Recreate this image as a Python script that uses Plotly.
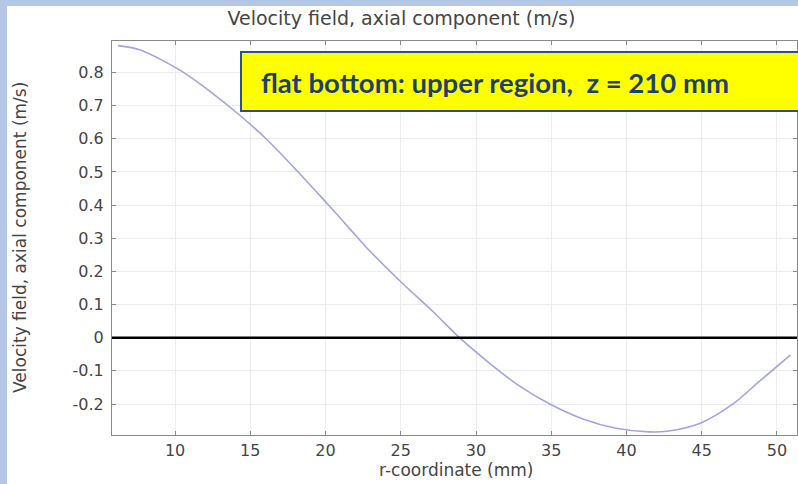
import plotly.graph_objects as go

r_mm = [6.2, 7.7, 10.4, 12.3, 14.3, 16.1, 18.3, 19.6, 20.5, 21.6, 22.7, 24.95, 27.2, 28.9,
        30.5, 32.7, 34.9, 37.1, 39.3, 41.5, 42.7, 44.9, 47.1, 48.9, 50.9]
w_axial = [0.881, 0.868, 0.805, 0.744, 0.671, 0.598, 0.494, 0.430, 0.385, 0.329, 0.273, 0.171,
           0.076, 0.0, -0.062, -0.140, -0.200, -0.245, -0.273, -0.284, -0.282, -0.258, -0.199,
           -0.129, -0.052]
x_ticks = [10, 15, 20, 25, 30, 35, 40, 45, 50]
y_ticks = [-0.2, -0.1, 0, 0.1, 0.2, 0.3, 0.4, 0.5, 0.6, 0.7, 0.8]
y_ticktext = ["-0.2", "-0.1", "0", "0.1", "0.2", "0.3", "0.4", "0.5", "0.6", "0.7", "0.8"]
title_text = "Velocity field, axial component (m/s)"
x_title = "r-coordinate (mm)"
note_text = "flat bottom: upper region,  z = 210 mm"

W, H = 798, 484
L, R, T, B = 112, 1, 41, 49
pw, ph = W - L - R, H - T - B

def px(xp):
    return (xp - L) / pw

def py(yp):
    return 1 - (yp - T) / ph

TXT = "#454545"
fig = go.Figure()
fig.add_trace(go.Scatter(x=r_mm, y=w_axial, mode="lines",
                         line=dict(color="#a3a3e3", width=1.6, shape="spline", smoothing=0.8),
                         showlegend=False, hoverinfo="skip"))

axis_common = dict(showgrid=True, gridcolor="#ececec", gridwidth=1, showline=True, linecolor="#8a8a8a",
                   linewidth=1, mirror="allticks", ticks="inside", ticklen=4, tickcolor="#8a8a8a",
                   tickfont=dict(family="DejaVu Sans", size=16, color=TXT), zeroline=False,
                   automargin=False)

fig.update_layout(
    width=W, height=H,
    margin=dict(l=L, r=R, t=T, b=B),
    paper_bgcolor="#b4c7e7",
    plot_bgcolor="white",
    title=dict(text=title_text, x=0.503, xref="container", xanchor="center", y=1 - 18 / H, yanchor="middle",
               font=dict(family="DejaVu Sans", size=19, color=TXT)),
    xaxis=dict(range=[5.81, 51.33], tickvals=x_ticks, ticklabelstandoff=1, **axis_common),
    yaxis=dict(range=[-0.2935, 0.895], tickvals=y_ticks, ticktext=y_ticktext, ticklabelstandoff=4,
               **axis_common),
    shapes=[
        dict(type="rect", xref="paper", yref="paper", x0=px(7), x1=px(800), y0=py(6), y1=py(486),
             fillcolor="white", line=dict(width=0), layer="below"),
        dict(type="line", xref="paper", yref="y", x0=0, x1=1, y0=0, y1=0, line=dict(color="black", width=2.5)),
        dict(type="rect", xref="paper", yref="paper", x0=px(241), x1=px(805), y0=py(111), y1=py(52),
             fillcolor="#ffff00", line=dict(color="#2e4f8c", width=2), layer="above"),
    ],
    annotations=[
        dict(text="<b>" + note_text + "</b>", xref="paper", yref="paper", x=px(259), y=py(82), xanchor="left",
             yanchor="middle", showarrow=False, align="left", font=dict(family="Lato", size=27.5, color="#1f3f6e")),
        dict(text=title_text, xref="paper", yref="paper", x=px(20), y=py(238), xanchor="center",
             yanchor="middle", textangle=-90, showarrow=False, font=dict(family="DejaVu Sans", size=17, color=TXT)),
        dict(text=x_title, xref="paper", yref="paper", x=px(456), y=py(470), xanchor="center",
             yanchor="middle", showarrow=False, font=dict(family="DejaVu Sans", size=17, color=TXT)),
    ],
)
fig.write_html("out.html", config={"displayModeBar": False},
               post_script="document.body.style.margin='0px';")
